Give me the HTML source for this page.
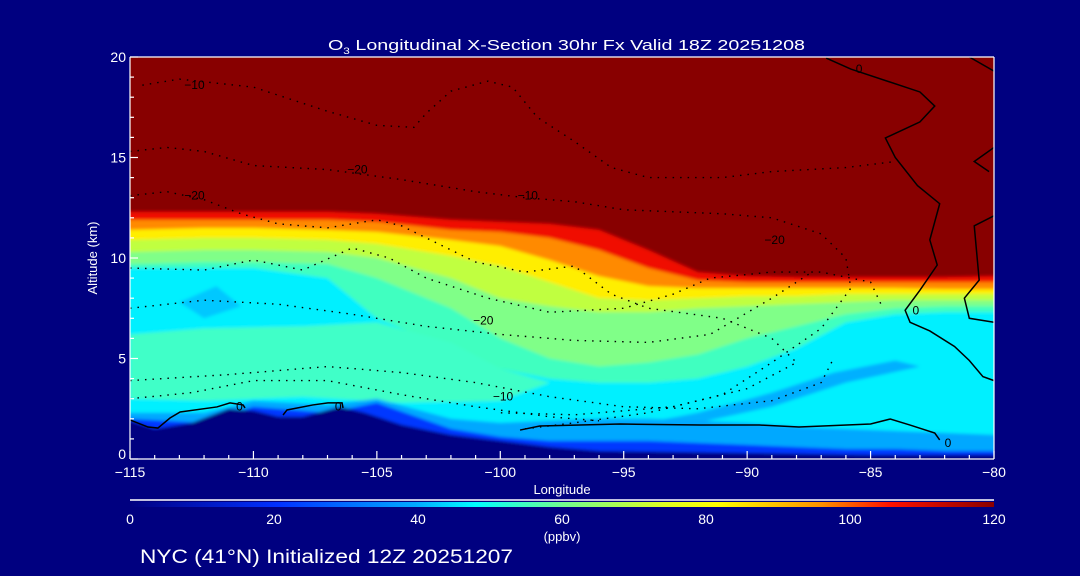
<!DOCTYPE html>
<html><head><meta charset="utf-8">
<style>
html,body{margin:0;padding:0;background:#000080;}
svg{display:block;font-family:"Liberation Sans",sans-serif;}
</style></head>
<body>
<svg id="chart" width="1080" height="576" viewBox="0 0 1080 576" xmlns="http://www.w3.org/2000/svg">
<defs>
<clipPath id="plotclip"><rect x="130" y="57" width="864" height="402"/></clipPath>
<filter id="soft" x="-5%" y="-5%" width="110%" height="110%"><feGaussianBlur stdDeviation="1.5"/></filter>
<linearGradient id="cbar" x1="0" x2="1" y1="0" y2="0">
<stop offset="0" stop-color="#000080"/><stop offset="0.17" stop-color="#0030ff"/>
<stop offset="0.33" stop-color="#00a8ff"/><stop offset="0.40" stop-color="#00ffff"/>
<stop offset="0.5" stop-color="#70ff90"/><stop offset="0.62" stop-color="#e0ff20"/>
<stop offset="0.68" stop-color="#ffff00"/><stop offset="0.8" stop-color="#ff9000"/>
<stop offset="0.88" stop-color="#ff1000"/><stop offset="1" stop-color="#880000"/>
</linearGradient>
</defs>
<rect width="1080" height="576" fill="#000080"/>
<text x="328" y="50" fill="#fff" font-size="15" textLength="477" lengthAdjust="spacingAndGlyphs">O<tspan font-size="9" dy="4">3</tspan><tspan dy="-4"> Longitudinal X-Section 30hr  Fx Valid 18Z 20251208</tspan></text>
<g id="fills" clip-path="url(#plotclip)"></g>
<g id="contours" clip-path="url(#plotclip)"></g>
<g id="axes"></g>
<text x="562" y="494" fill="#fff" font-size="13" text-anchor="middle">Longitude</text>
<text x="97" y="258" fill="#fff" font-size="13" text-anchor="middle" transform="rotate(-90 97 258)">Altitude (km)</text>
<line x1="130" y1="500" x2="994" y2="500" stroke="#fff" stroke-width="1.5"/>
<rect x="130" y="502" width="864" height="5" fill="url(#cbar)"/>
<g id="cbticks"></g>
<text x="562" y="541" fill="#fff" font-size="13" text-anchor="middle">(ppbv)</text>
<text x="140" y="563" fill="#fff" font-size="19" textLength="373" lengthAdjust="spacingAndGlyphs">NYC (41°N) Initialized 12Z 20251207</text>
</svg>
<script>
// ---- data ----
const lonGrid = [-115,-112,-110,-107,-105,-102,-100,-98,-96,-94,-92,-90,-88,-86,-84,-82,-80];
const lvl120 = [12.3,12.3,12.3,12.3,12.2,11.9,11.8,11.7,11.4,10.4,9.3,9.1,9.05,9.05,9.05,9.05,9.1];
const lvl100 = [11.9,11.9,11.9,11.9,11.8,11.4,11.3,11.0,10.4,9.5,8.9,8.8,8.8,8.8,8.8,8.8,8.8];
const lvl85 = [11.4,11.5,11.5,11.4,11.3,10.9,10.6,9.9,9.1,8.6,8.5,8.5,8.5,8.5,8.5,8.45,8.45];
const lvl75 = [10.9,11.0,11.0,10.9,10.7,10.1,9.6,8.8,8.0,7.9,8.0,8.1,8.1,8.2,8.2,8.2,8.2];
const lvl62 = [10.3,10.4,10.4,10.3,10.0,9.0,8.0,7.6,7.3,7.3,7.5,7.6,7.7,7.8,7.9,7.9,7.9];
const lvl52 = [9.7,9.8,9.8,9.7,9.0,7.5,6.0,5.0,4.6,4.8,5.2,6.0,6.6,7.2,7.5,7.6,7.6];
const lvl45 = [9.5,9.5,9.5,9.0,7.0,5.5,4.5,4.0,3.8,3.8,4.0,4.6,5.5,6.8,7.2,7.3,7.3];
const lvl35 = [2.3,2.3,2.9,2.7,3.0,2.0,1.8,1.9,2.0,2.0,1.9,1.8,1.6,1.5,1.4,1.3,1.2];
const lvl20 = [2.0,1.8,2.6,2.3,2.8,1.5,1.1,0.9,0.9,0.9,0.8,0.7,0.6,0.5,0.5,0.4,0.4];
const terrainLon = [-115,-114,-112.5,-111,-110,-109,-108,-106.5,-105.5,-104,-102,-100,-98,-96,-90,-85,-80];
const terrainAlt = [1.9,1.5,1.8,2.5,2.4,2.1,2.1,2.6,2.3,1.7,1.2,0.9,0.6,0.4,0.3,0.2,0.2];
const blobAqua = [[-115,6.2],[-112,6.5],[-108,6.6],[-105,6.8],[-102,5.8],[-100,4.5],[-98,3.8],[-100,2.9],[-104,2.8],[-108,3.1],[-112,2.9],[-115,3.0]];
const blobCyanBlue = [[-113,7.8],[-111.5,8.6],[-110.5,7.6],[-112,7.0]];
const blobSky = [[-95,1.6],[-92,2.3],[-89,3.3],[-86.5,4.3],[-84,4.9],[-83,4.6],[-86,3.8],[-89,2.6],[-92,1.8]];
const contourA = [[-115,1.94],[-114.27,1.59],[-113.87,1.54],[-113.38,2.04],[-112.97,2.34],[-111.48,2.59],[-110.95,2.79],[-110.42,2.69],[-110.34,2.54]];
const contourB = [[-108.8,2.19],[-108.64,2.44],[-107.59,2.69],[-106.98,2.79],[-106.41,2.79],[-106.37,2.54]];
const contourC = [[-99.2,1.44],[-98.4,1.64],[-95.15,1.74],[-91.9,1.69],[-89.5,1.69],[-87.9,1.59],[-85.0,1.74],[-84.2,1.99],[-83.4,1.69],[-82.4,1.29],[-82.2,0.95]];
const contourD = [[-86.8,19.95],[-85.8,19.4],[-83.0,18.26],[-82.4,17.56],[-83.0,16.77],[-84.4,15.97],[-84.0,15.0],[-83.1,13.6],[-82.2,12.7],[-82.6,10.9],[-82.3,9.65],[-83.0,8.4],[-83.6,7.4],[-83.4,6.8],[-82.6,6.37],[-81.6,5.6],[-81.0,4.9],[-80.45,4.1],[-80,3.9]];
const contourE = [[-81,20],[-80,19.3]];
const contourF = [[-80,15.5],[-80.8,14.8],[-80.2,14.3]];
const contourG = [[-80,12.1],[-80.8,11.6],[-80.6,8.9],[-81.2,8.0],[-81,7.0],[-80,6.8]];
const dotted1 = [[-114.5,18.6],[-113,18.9],[-110,18.5],[-107,17.3],[-105,16.6],[-103.5,16.5],[-103,17.2],[-102,18.3],[-100.5,18.8],[-99.5,18.5],[-98.5,17],[-97,15.8],[-95.5,14.5],[-94,14.0],[-91,14.0],[-89,14.3],[-86,14.5],[-84,14.8]];
const dotted2 = [[-115,15.3],[-113.5,15.5],[-112,15.3],[-110,14.6],[-107,14.4],[-104,13.9],[-101,13.3],[-99,13.0],[-97,12.8],[-95,12.4],[-93,12.3],[-91,12.2],[-89,12.0],[-87,11.2],[-86,10.0],[-85.8,8.5],[-87,6.5],[-89,4.8],[-91,3.2],[-94,2.3],[-97,1.8],[-99,1.5]];
const dotted3 = [[-115,13.1],[-113.5,13.3],[-112,12.9],[-110.5,12.2],[-109,11.7],[-107,11.5],[-105,11.9],[-104,11.6],[-103,11.0],[-101,9.8],[-99,9.3],[-97,9.6],[-95.5,8.2],[-94,7.5],[-91,7.0],[-89,6.0],[-88,4.8],[-90,3.5],[-93,2.6],[-97,2.2],[-100,2.3]];
const dotted4 = [[-115,9.5],[-112,9.4],[-110,9.9],[-108,9.4],[-106,10.5],[-104.5,10.0],[-103,9.0],[-100.5,8.0],[-98,7.3],[-95,7.5],[-93,8.2],[-91.5,9.0],[-89,9.3],[-87,9.3],[-85,8.8],[-84.5,7.5]];
const dotted5 = [[-115,7.5],[-112,7.9],[-109,7.7],[-106,7.2],[-103,6.6],[-100,6.2],[-97,5.9],[-94,5.8],[-91.5,6.2],[-89,8.0],[-87.5,9.2]];
const dotted6 = [[-115,3.9],[-111,4.2],[-107,4.6],[-104,4.3],[-101,3.8],[-98,3.1],[-95,2.6],[-92,2.5],[-89,2.9],[-87,3.8],[-86.5,5.0]];
const dotted7 = [[-115,3.0],[-112.5,3.3],[-110,3.9],[-107,3.9],[-104,3.2],[-101,2.6],[-98,2.1],[-96,1.9]];
const dLabels = [[-112.8,18.6,'-10'],[-112.8,13.1,'-20'],[-106.2,14.4,'-20'],[-99.3,13.1,'-10'],[-89.3,10.9,'-20'],[-101.1,6.9,'-20'],[-100.3,3.1,'-10'],[-110.7,2.6,'0'],[-106.7,2.6,'0'],[-85.6,19.4,'0'],[-83.3,7.4,'0'],[-82,0.8,'0']];
const xTicks = [-115,-110,-105,-100,-95,-90,-85,-80];
const yTicks = [0,5,10,15,20];
const cbTicks = [0,20,40,60,80,100,120];
// ---- scales ----
const X0=130,X1=994,Y0=459,Y1=57;
const sx = lon => X0 + (lon+115)/35*(X1-X0);
const sy = alt => Y0 - alt/20*(Y0-Y1);
const NS='http://www.w3.org/2000/svg';
function mk(tag, parent){const e=document.createElementNS(NS,tag);parent.appendChild(e);return e;}
const fills=document.getElementById('fills');
const fg=mk('g',fills); fg.setAttribute('filter','url(#soft)');
const base=mk('rect',fg);


base.setAttribute('x',120);base.setAttribute('y',50);base.setAttribute('width',890);base.setAttribute('height',420);base.setAttribute('fill','#880000');
function layer(lons, alts, color, name){
  let d='M'+(sx(lons[0])-10)+','+sy(alts[0]);
  lons.forEach((l,i)=>{d+=' L'+sx(l)+','+sy(alts[i]);});
  d+=' L'+(sx(lons[lons.length-1])+10)+','+sy(alts[alts.length-1])+' L1010,470 L120,470 Z';
  const p=mk('path',fg);
  
  
  p.setAttribute('d',d);p.setAttribute('fill',color);
}
function blob(pts,color,name){
  const p=mk('path',fg);
  
  
  p.setAttribute('d','M'+pts.map(q=>sx(q[0])+','+sy(q[1])).join(' L')+' Z');p.setAttribute('fill',color);
}
layer(lonGrid,lvl120,'#f00800','band-100-120');
layer(lonGrid,lvl100,'#ff8a00','band-85-100');
layer(lonGrid,lvl85,'#ffee00','band-75-85');
layer(lonGrid,lvl75,'#c0ff40','band-62-75');
layer(lonGrid,lvl62,'#80ff88','band-52-62');
layer(lonGrid,lvl52,'#40ffc0','band-45-52');
layer(lonGrid,lvl45,'#00f0ff','band-35-45');
blob(blobAqua,'#40ffc8','aqua-region');
blob(blobCyanBlue,'#00c8ff','blue-patch');
blob(blobSky,'#00b0ff','blue-diagonal-band');
layer(lonGrid,lvl35,'#00a8ff','band-20-35');
layer(lonGrid,lvl20,'#0038ff','band-0-20');
layer(terrainLon,terrainAlt,'#000080','terrain');
const cg=document.getElementById('contours');
function line(pts,dotted,name){
  const p=mk('path',cg);
  
  
  p.setAttribute('d','M'+pts.map(q=>sx(q[0])+','+sy(q[1])).join(' L'));
  p.setAttribute('fill','none');p.setAttribute('stroke','#000');
  if(dotted){p.setAttribute('stroke-width','1.4');p.setAttribute('stroke-dasharray','1.5 6');}
  else p.setAttribute('stroke-width','1.5');
}
[contourA,contourB,contourC,contourD,contourE,contourF,contourG].forEach((c,i)=>line(c,false,'zero-contour-'+i));
[dotted1,dotted2,dotted3,dotted4,dotted5,dotted6,dotted7].forEach((c,i)=>line(c,true,'negative-contour-'+i));
dLabels.forEach(l=>{
  const t=mk('text',cg);
  
  
  t.setAttribute('x',sx(l[0]));t.setAttribute('y',sy(l[1])+4);t.setAttribute('font-size','12');t.setAttribute('fill','#000');
  t.textContent=l[2].replace('-','\u2212');
});
const ax=document.getElementById('axes');
function L(x1,y1,x2,y2,name){const e=mk('line',ax);
  
  
  e.setAttribute('x1',x1);e.setAttribute('y1',y1);e.setAttribute('x2',x2);e.setAttribute('y2',y2);e.setAttribute('stroke','#fff');e.setAttribute('stroke-width','1.2');}
L(X0,Y1,X1,Y1,'top-axis');L(X0,Y0,X1,Y0,'x-axis-line');L(X0,Y0,X0,Y1,'y-axis-line');L(X1,Y0,X1,Y1,'right-axis');
for(let lon=-115;lon<=-80;lon++){L(sx(lon),Y0,sx(lon),Y0-(lon%5===0?8:4),'x-tick');}
for(let a=0;a<=20;a++){L(X0,sy(a),X0+(a%5===0?8:4),sy(a),'y-tick');}
xTicks.forEach(v=>{const t=mk('text',ax);
  
  
  t.setAttribute('x',sx(v));t.setAttribute('y',477);t.setAttribute('fill','#fff');t.setAttribute('font-size','14');t.setAttribute('text-anchor','middle');t.textContent=String(v).replace('-','\u2212');});
yTicks.forEach(v=>{const t=mk('text',ax);
  
  
  t.setAttribute('x',126);t.setAttribute('y',Math.min(sy(v)+5,459));t.setAttribute('fill','#fff');t.setAttribute('font-size','14');t.setAttribute('text-anchor','end');t.textContent=v;});
const cb=document.getElementById('cbticks');
cbTicks.forEach(v=>{const t=mk('text',cb);
  
  
  t.setAttribute('x',X0+v/120*(X1-X0));t.setAttribute('y',524);t.setAttribute('fill','#fff');t.setAttribute('font-size','14');t.setAttribute('text-anchor','middle');t.textContent=v;});
</script>
</body></html>
